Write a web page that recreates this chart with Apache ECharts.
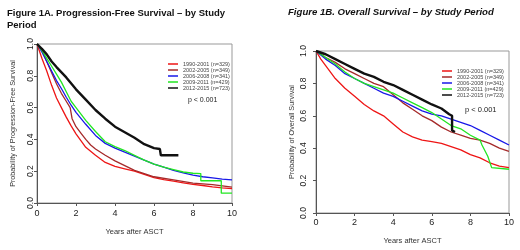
<!DOCTYPE html>
<html>
<head>
<meta charset="utf-8">
<script src="https://cdn.jsdelivr.net/npm/echarts@6/dist/echarts.min.js"></script>
<style>
  html, body { margin: 0; padding: 0; background: #fff; }
  #chart { width: 520px; height: 250px; }
</style>
</head>
<body>
<div id="chart"></div>
<script>
const groups = ['1990-2001 (n=329)', '2002-2005 (n=349)', '2006-2008 (n=341)', '2009-2011 (n=429)', '2012-2015 (n=723)'];
const colors = ['#ee1515', '#a52a2a', '#1818e8', '#22e622', '#111111'];
const xTicks = [0, 2, 4, 6, 8, 10];

// Progression-free survival, [years, probability]
const pfsRed = [[0,1],[0.25,0.91],[0.5,0.83],[0.75,0.74],[1,0.66],[1.25,0.6],[1.5,0.54],[1.75,0.485],[2,0.435],[2.5,0.35],[3,0.3],[3.5,0.255],[4,0.23],[4.5,0.215],[5,0.2],[5.5,0.18],[6,0.16],[6.5,0.147],[7,0.137],[7.5,0.127],[8,0.117],[8.5,0.11],[9,0.102],[9.5,0.095],[10,0.09]];
const pfsBrown = [[0,1],[0.25,0.96],[0.5,0.89],[0.75,0.82],[1,0.75],[1.25,0.69],[1.5,0.64],[1.7,0.6],[1.8,0.53],[2,0.48],[2.25,0.44],[2.5,0.4],[2.75,0.365],[3,0.34],[3.5,0.3],[4,0.265],[4.5,0.235],[5,0.205],[5.5,0.185],[6,0.165],[7,0.145],[8,0.125],[9,0.115],[10,0.1]];
const pfsBlue = [[0,1],[0.25,0.95],[0.5,0.89],[0.75,0.83],[1,0.77],[1.25,0.72],[1.5,0.665],[1.75,0.615],[2,0.57],[2.5,0.495],[3,0.425],[3.5,0.375],[4,0.345],[4.5,0.32],[5,0.295],[5.5,0.27],[6,0.245],[6.5,0.225],[7,0.205],[7.5,0.19],[8,0.175],[8.5,0.165],[9,0.158],[9.5,0.15],[10,0.145]];
const pfsGreen = [[0,1],[0.25,0.96],[0.5,0.91],[0.75,0.86],[1,0.81],[1.25,0.76],[1.5,0.7],[1.75,0.64],[2,0.6],[2.5,0.52],[3,0.45],[3.5,0.385],[4,0.355],[4.5,0.33],[5,0.3],[5.5,0.27],[6,0.245],[6.5,0.225],[7,0.21],[7.5,0.195],[8,0.187],[8.4,0.185],[8.4,0.14],[9.45,0.14],[9.45,0.062],[10,0.062]];
const pfsBlack = [[0,1],[0.25,0.97],[0.5,0.935],[0.75,0.89],[1,0.855],[1.5,0.79],[2,0.715],[2.5,0.65],[3,0.585],[3.5,0.53],[4,0.48],[4.5,0.445],[5,0.41],[5.5,0.37],[6,0.345],[6.3,0.34],[6.35,0.3],[7.25,0.3]];

// Overall survival, [years, probability]
const osRed = [[0,1],[0.25,0.95],[0.5,0.91],[0.75,0.87],[1,0.83],[1.5,0.77],[2,0.72],[2.5,0.67],[3,0.63],[3.5,0.6],[4,0.55],[4.5,0.5],[5,0.47],[5.5,0.45],[6,0.44],[6.5,0.43],[7,0.41],[7.5,0.39],[8,0.36],[8.5,0.34],[9,0.31],[9.5,0.29],[10,0.28]];
const osBrown = [[0,1],[0.5,0.96],[1,0.93],[1.5,0.89],[2,0.86],[2.5,0.83],[3,0.8],[3.5,0.78],[4,0.73],[4.5,0.68],[5,0.64],[5.5,0.6],[6,0.57],[6.5,0.53],[7,0.5],[7.5,0.48],[8,0.46],[8.5,0.45],[9,0.43],[9.5,0.4],[10,0.38]];
const osBlue = [[0,1],[0.5,0.95],[1,0.91],[1.5,0.86],[2,0.83],[2.5,0.8],[3,0.77],[3.5,0.74],[4,0.72],[4.5,0.69],[5,0.66],[5.5,0.63],[6,0.61],[6.5,0.6],[7,0.58],[7.5,0.56],[8,0.54],[8.5,0.51],[9,0.48],[9.5,0.45],[10,0.42]];
const osGreen = [[0,1],[0.5,0.96],[1,0.92],[1.5,0.87],[2,0.83],[2.5,0.8],[3,0.78],[3.5,0.76],[4,0.74],[4.5,0.71],[5,0.68],[5.5,0.65],[6,0.62],[6.5,0.58],[7,0.54],[7.5,0.52],[8,0.48],[8.5,0.45],[8.6,0.42],[8.9,0.35],[9.1,0.28],[9.2,0.27],[10,0.27]];
const osBlack = [[0,1],[0.5,0.98],[1,0.95],[1.5,0.92],[2,0.89],[2.5,0.86],[3,0.84],[3.5,0.81],[4,0.79],[4.5,0.76],[5,0.73],[5.5,0.7],[6,0.67],[6.5,0.645],[6.9,0.61],[7.05,0.6],[7.05,0.51],[7.2,0.5]];

const pfsData = [pfsRed, pfsBrown, pfsBlue, pfsGreen, pfsBlack];
const osData = [osRed, osBrown, osBlue, osGreen, osBlack];

const font = "'Liberation Sans', Arial, sans-serif";

function xAxis(gridIndex, margin, nameGap) {
    return {
        type: 'value', gridIndex, min: 0, max: 10, interval: 2,
        name: 'Years after ASCT', nameLocation: 'middle', nameGap,
        nameTextStyle: { fontSize: 7.5, color: '#333', fontFamily: font },
        axisLine: { lineStyle: { color: '#555' } },
        axisTick: { show: true, length: 3, lineStyle: { color: '#555' } },
        axisLabel: { fontSize: 9, color: '#222', margin, fontFamily: font },
        splitLine: { show: false },
    };
}

function yAxis(gridIndex, name, margin) {
    return {
        type: 'value', gridIndex, min: 0, max: 1, interval: 0.2,
        name, nameLocation: 'middle', nameGap: 20, nameRotate: 90,
        nameTextStyle: { fontSize: 7.2, color: '#333', fontFamily: font },
        axisLine: { show: true, lineStyle: { color: '#555' } },
        axisTick: { show: true, length: 3, lineStyle: { color: '#555' } },
        axisLabel: { fontSize: 8.5, color: '#222', margin, rotate: 90, fontFamily: font,
            formatter: v => v.toFixed(1) },
        splitLine: { show: false },
    };
}

function makeSeries(data, idx) {
    return data.map((d, i) => ({
        name: groups[i],
        type: 'line',
        xAxisIndex: idx, yAxisIndex: idx,
        data: d,
        showSymbol: false,
        lineStyle: { color: colors[i], width: i === 4 ? 2.4 : 1.3 },
        itemStyle: { color: colors[i] },
    }));
}

function legend(left, top) {
    return {
        data: groups, orient: 'vertical', left, top,
        icon: 'rect', itemWidth: 10, itemHeight: 1.5, itemGap: 0,
        selectedMode: false,
        textStyle: { fontSize: 5.5, lineHeight: 5.4, color: '#444', fontFamily: font },
    };
}

const options = {
    animation: false,
    title: [
        { text: 'Figure 1A. Progression-Free Survival – by Study\nPeriod', left: 2, top: 2,
          textStyle: { fontSize: 9.5, fontWeight: 'bold', lineHeight: 12, color: '#111', fontFamily: font } },
        { text: 'Figure 1B. Overall Survival – by Study Period', left: 283, top: 2,
          textStyle: { fontSize: 9.6, fontWeight: 'bold', fontStyle: 'italic', color: '#111', fontFamily: font } },
    ],
    legend: [legend(163, 56), legend(437, 63)],
    grid: [
        { left: 37, top: 44, width: 195, height: 159, show: true, borderColor: '#999', borderWidth: 1 },
        { left: 316, top: 51, width: 193, height: 165, show: true, borderColor: '#999', borderWidth: 1 },
    ],
    xAxis: [xAxis(0, 6, 25), xAxis(1, 5, 24)],
    yAxis: [yAxis(0, 'Probability of Progression-Free Survival', 2), yAxis(1, 'Probability of Overall Survival', 8)],
    graphic: [
        { type: 'text', left: 188, top: 97, style: { text: 'p < 0.001', fontSize: 7, fill: '#222', fontFamily: font } },
        { type: 'text', left: 465, top: 106, style: { text: 'p < 0.001', fontSize: 7.5, fill: '#222', fontFamily: font } },
    ],
    series: [...makeSeries(pfsData, 0), ...makeSeries(osData, 1)],
};

const chart = echarts.init(document.getElementById('chart'));
chart.setOption(options);
</script>
</body>
</html>
